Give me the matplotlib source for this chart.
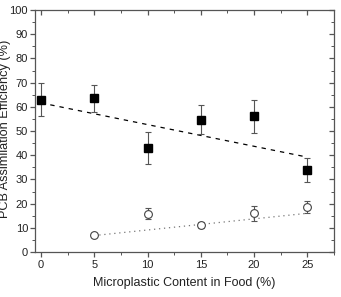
import matplotlib.pyplot as plt

plt.rcParams["font.family"] = ["Liberation Sans", "DejaVu Sans"]

# microplastic content in food (%)
x_sq = [0, 5, 10, 15, 20, 25]
y_sq = [63.0, 63.5, 43.0, 54.7, 56.0, 33.8]
err_sq = [7.0, 5.5, 6.5, 6.0, 6.8, 5.0]

x_ci = [5, 10, 15, 20, 25]
y_ci = [7.0, 15.8, 11.0, 16.0, 18.5]
err_ci = [1.0, 2.3, 1.2, 3.2, 2.5]

# regression lines (end points)
fit_sq_x = [0, 25]
fit_sq_y = [61.6, 39.2]
fit_ci_x = [5, 25]
fit_ci_y = [6.8, 16.0]

xticks = [0, 5, 10, 15, 20, 25]
yticks = list(range(0, 101, 10))

fig = plt.figure(figsize=(3.41, 2.97), dpi=100)
ax = fig.add_axes([35 / 341, 45 / 297, 299 / 341, 242 / 297])

gray = "#555555"

ax.plot(fit_sq_x, fit_sq_y, color="black", linestyle=(0, (3.5, 4)), linewidth=0.9)
ax.plot(fit_ci_x, fit_ci_y, color="#777777", linestyle=(0, (1, 3)), linewidth=0.9)

ax.errorbar(x_sq, y_sq, yerr=err_sq, fmt="s", color="black", markersize=5.2,
            ecolor=gray, elinewidth=0.8, capsize=2.2, capthick=0.8)
ax.errorbar(x_ci, y_ci, yerr=err_ci, fmt="o", markerfacecolor="white",
            markeredgecolor="#444444", markeredgewidth=0.8, markersize=5.6,
            ecolor=gray, elinewidth=0.8, capsize=2.2, capthick=0.8)

ax.set_xlim(-0.57, 25.7)
ax.set_ylim(0, 100)
ax.set_xticks(xticks)
ax.set_yticks(yticks)
ax.set_xticks([v + 2.5 for v in xticks], minor=True)
ax.set_yticks([v + 5 for v in yticks[:-1]], minor=True)

for s in ax.spines.values():
    s.set_color(gray)
    s.set_linewidth(0.9)

ax.tick_params(which="both", direction="out", colors=gray, labelcolor="#222222",
               labelsize=8)
ax.tick_params(which="major", length=3.5, width=0.9)
ax.tick_params(which="minor", length=2, width=0.7)
ax.tick_params(axis="x", pad=2)
ax.tick_params(axis="y", pad=1.5)

# top and right axes with inward ticks, no labels
axt = ax.secondary_xaxis("top")
axt.set_xticks(xticks)
axt.set_xticks([v + 2.5 for v in xticks], minor=True)
axt.tick_params(which="both", direction="in", colors=gray, labeltop=False)
axt.tick_params(which="major", length=3.5, width=0.9)
axt.tick_params(which="minor", length=2, width=0.7)
axt.spines["top"].set_visible(False)

axr = ax.secondary_yaxis("right")
axr.set_yticks(yticks)
axr.set_yticks([v + 5 for v in yticks[:-1]], minor=True)
axr.tick_params(which="both", direction="in", colors=gray, labelright=False)
axr.tick_params(which="major", length=3.5, width=0.9)
axr.tick_params(which="minor", length=2, width=0.7)
axr.spines["right"].set_visible(False)

ax.set_xlabel("Microplastic Content in Food (%)", fontsize=9, color="#222222", labelpad=5)
ax.set_ylabel("PCB Assimilation Efficiency (%)", fontsize=9.2, color="#222222")
ax.yaxis.set_label_coords(-0.08, 0.51)

fig.savefig("out.png", dpi=100)
